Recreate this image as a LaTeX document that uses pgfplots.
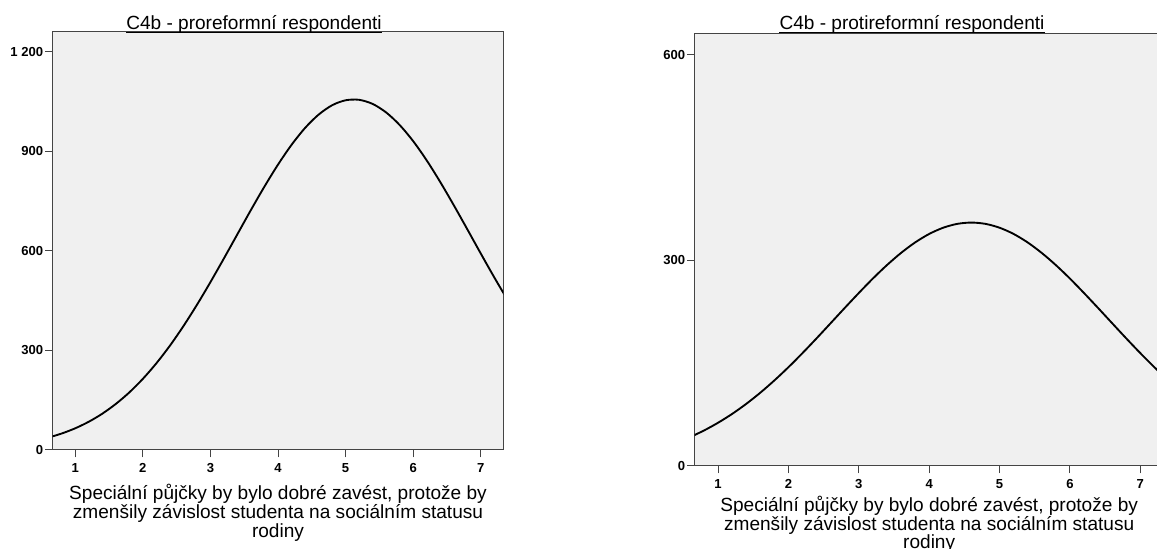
\documentclass[border=0pt]{standalone}
\usepackage{fontspec}
\setmainfont{Liberation Sans}
\usepackage{pgfplots}
\usepackage{pgfplotstable}
\pgfplotsset{compat=1.18}

\definecolor{panelbg}{HTML}{F0F0F0}
\definecolor{axisgray}{HTML}{444444}

% fitted normal curve, pro-reform respondents
\pgfplotstableread{
x y
0.6 37.1
0.8 49.6
1.0 65.3
1.2 85.0
1.4 109.2
1.6 138.6
1.8 173.3
2.0 214.1
2.2 261.0
2.4 313.9
2.6 372.9
2.8 437.0
3.0 505.5
3.2 577.1
3.4 650.2
3.6 723.2
3.8 793.7
4.0 859.7
4.2 919.2
4.4 970.0
4.6 1010.2
4.8 1038.5
5.0 1053.5
5.2 1054.9
5.4 1042.5
5.6 1016.8
5.8 978.9
6.0 930.2
6.2 872.3
6.4 807.2
6.6 737.4
6.8 664.9
7.0 591.6
7.2 519.6
7.4 450.4
}\proreform

% fitted normal curve, anti-reform respondents
\pgfplotstableread{
x y
0.6 42.0
0.8 51.8
1.0 63.1
1.2 76.0
1.4 90.6
1.6 106.9
1.8 124.8
2.0 144.1
2.2 164.7
2.4 186.2
2.6 208.3
2.8 230.5
3.0 252.3
3.2 273.4
3.4 293.0
3.6 310.7
3.8 326.0
4.0 338.4
4.2 347.5
4.4 353.1
4.6 355.0
4.8 353.1
5.0 347.5
5.2 338.4
5.4 326.0
5.6 310.7
5.8 293.0
6.0 273.4
6.2 252.3
6.4 230.5
6.6 208.3
6.8 186.2
7.0 164.7
7.2 144.1
7.4 124.8
}\protireform

\pgfplotsset{spss/.style={
  scale only axis,
  anchor=south west,
  xmin=0.667, xmax=7.333, ymin=0,
  axis background/.style={fill=panelbg},
  axis line style={axisgray, line width=0.75pt},
  every tick/.style={axisgray, line width=0.75pt},
  tick align=outside,
  major tick length=5.5pt,
  xtick pos=left, ytick pos=left,
  xtick={1,2,3,4,5,6,7},
  xticklabels={1,2,3,4,5,6,7},
  tick label style={font=\fontsize{9.8}{11}\selectfont\bfseries},
  xticklabel style={inner sep=0pt, text height=7pt, text depth=0pt, yshift=-4.2pt},
  yticklabel style={inner sep=0pt, xshift=-1.5pt},
}}

\newcommand{\tfont}{\fontsize{14.3}{15}\selectfont}

\begin{document}
\begin{tikzpicture}

\begin{axis}[spss, name=L,
  at={(39.5pt,74.25pt)}, width=338pt, height=313.7pt,
  ymax=1260,
  ytick={0,300,600,900,1200},
  yticklabels={0,300,600,900,1 200},
]
\addplot[black, line width=1.4pt, smooth] table {\proreform};
\end{axis}

\begin{axis}[spss, name=R,
  at={(521pt,62.25pt)}, width=351.75pt, height=324pt,
  ymax=630,
  ytick={0,300,600},
  yticklabels={0,300,600},
]
\addplot[black, line width=1.4pt, smooth] table {\protireform};
\end{axis}

% titles
\node[anchor=base, font=\tfont, inner sep=0pt] (t1) at (190.5pt,389.25pt) {C4b - proreformní respondenti};
\draw[line width=0.75pt] ([yshift=-1.6pt]t1.base west) -- ([yshift=-1.6pt]t1.base east);
\node[anchor=base, font=\tfont, inner sep=0pt] (t2) at (684pt,389.25pt) {C4b - protireformní respondenti};
\draw[line width=0.75pt] ([yshift=-1.6pt]t2.base west) -- ([yshift=-1.6pt]t2.base east);

% x axis labels
\node[anchor=base, font=\tfont, inner sep=0pt] at ([yshift=-37.5pt]L.south) {Speciální půjčky by bylo dobré zavést, protože by};
\node[anchor=base, font=\tfont, inner sep=0pt] at ([yshift=-51.75pt]L.south) {zmenšily závislost studenta na sociálním statusu};
\node[anchor=base, font=\tfont, inner sep=0pt] at ([yshift=-66pt]L.south) {rodiny};

\node[anchor=base, font=\tfont, inner sep=0pt] at ([yshift=-34.5pt]R.south) {Speciální půjčky by bylo dobré zavést, protože by};
\node[anchor=base, font=\tfont, inner sep=0pt] at ([yshift=-48.25pt]R.south) {zmenšily závislost studenta na sociálním statusu};
\node[anchor=base, font=\tfont, inner sep=0pt] at ([yshift=-62pt]R.south) {rodiny};

\pgfresetboundingbox
\path[use as bounding box] (0,0) rectangle (867.75pt,411.75pt);
\end{tikzpicture}
\end{document}
